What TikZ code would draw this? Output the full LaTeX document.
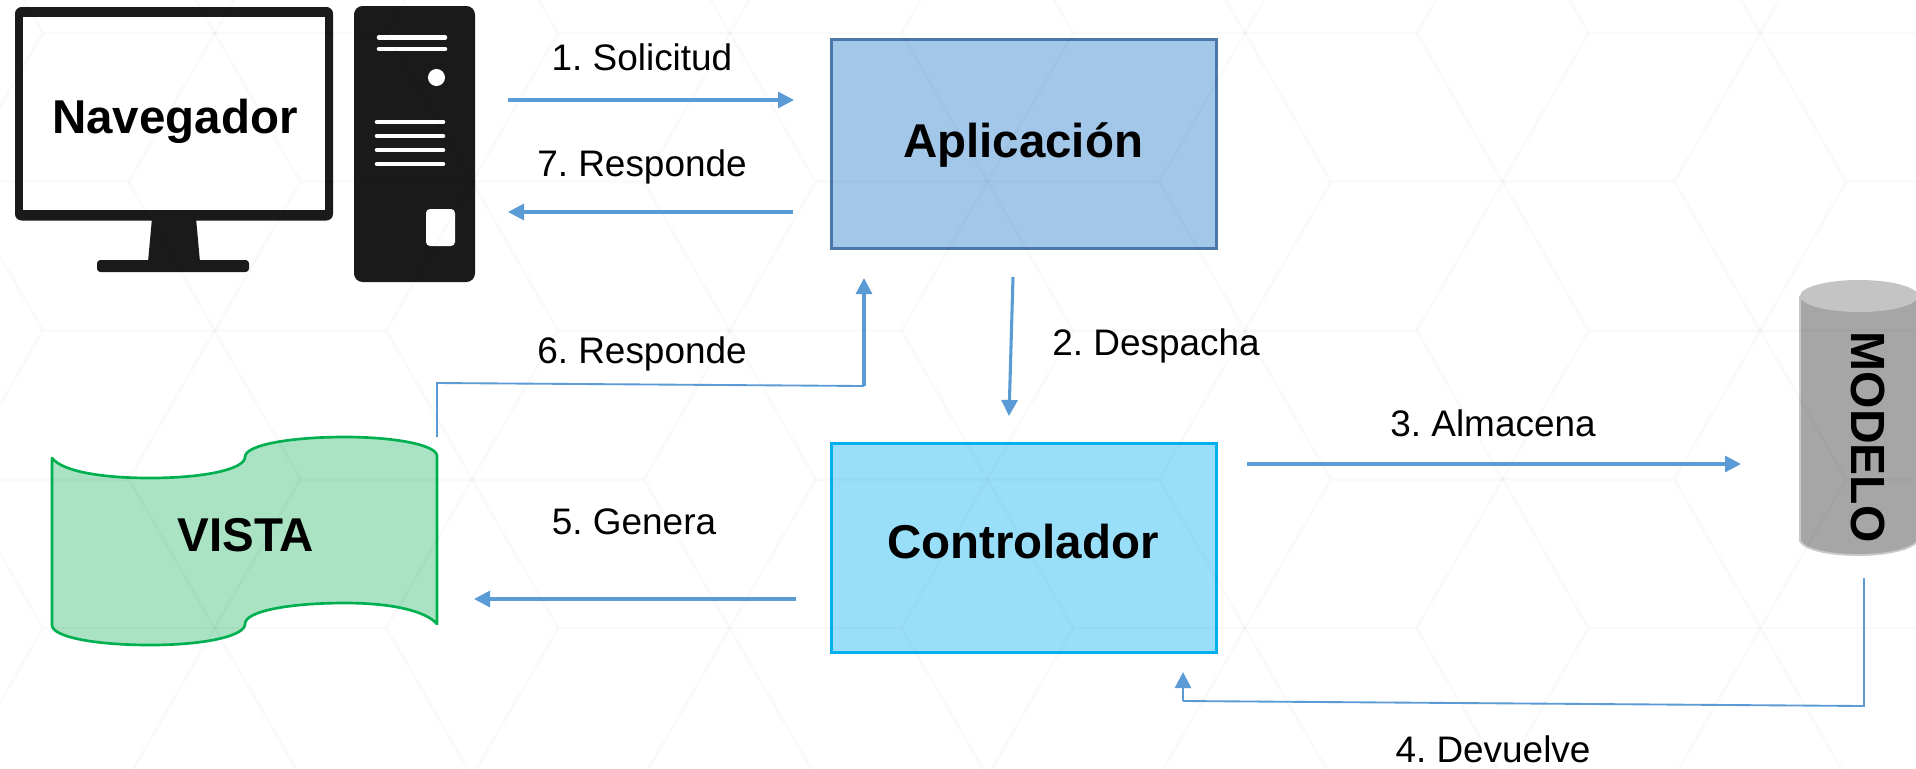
\documentclass[tikz,border=0pt]{standalone}
\usepackage{fontspec}
\setmainfont{Liberation Sans}
\usetikzlibrary{arrows.meta,calc}
\definecolor{flow}{HTML}{5B9BD5}
\definecolor{ink}{HTML}{1A1A1A}
\definecolor{vistaline}{HTML}{00B050}
\definecolor{vistafill}{HTML}{A9E3C3}
\definecolor{cylbody}{HTML}{A6A6A6}
\definecolor{cyledge}{HTML}{C8C8C8}
\definecolor{cyltop}{HTML}{C4C4C4}
\definecolor{applinea}{HTML}{4A78A8}
\definecolor{appfill}{HTML}{A3C7E9}
\definecolor{ctlline}{HTML}{00B0F0}
\definecolor{ctlfill}{HTML}{9ADFFA}
\tikzset{
  x=0.75pt,y=-0.75pt,
  boxa/.style={rectangle,draw=#1,line width=2.25pt,minimum width=288.75pt,minimum height=156.75pt,inner sep=0pt},
  big/.style={font=\bfseries\fontsize{35.6pt}{40pt}\selectfont,text=black,inner sep=0pt,anchor=base},
  lab/.style={font=\fontsize{27.7pt}{30pt}\selectfont,text=black,inner sep=0pt,anchor=base},
  flowline/.style={draw=flow,line width=2.3pt,-{Triangle[length=12pt,width=12pt]}},
  flowthin/.style={draw=flow,line width=1.4pt},
  hexline/.style={draw=black,draw opacity=0.018,line width=2.2pt},
  whitebar/.style={draw=white,line width=3.4pt,line cap=round},
  pc/.style={fill=ink,draw=none}
}
\begin{document}
\frenchspacing
\begin{tikzpicture}
\useasboundingbox[fill=white] (0,0) rectangle (1916,768);

% Monitor
\fill[pc,rounded corners=5pt] (15,7) rectangle (333,220.5);
\fill[white] (23,17) rectangle (325,210);
\fill[pc] (152,218) -- (196,218) -- (200,262) -- (148,262) -- cycle;
\fill[pc,rounded corners=2.5pt] (97,260) rectangle (249,272);
% Tower
\fill[pc,rounded corners=6.5pt] (354,6) rectangle (475,282);
\foreach \yy in {37.5,49}{\draw[whitebar] (379,\yy) -- (445,\yy);}
\fill[white] (436.5,77.5) circle[radius=6.4pt];
\foreach \yy in {122,136,150,164}{\draw[whitebar] (377,\yy) -- (443,\yy);}
\fill[white,rounded corners=3pt] (426,209) rectangle (455,246);

% Vista
\filldraw[draw=vistaline,fill=vistafill,line width=2pt,line join=round]
  (52,458) .. controls (62,471) and (100,478) .. (150,478)
  .. controls (205,478) and (245,469) .. (245,457)
  .. controls (245,445) and (290,437) .. (345,437)
  .. controls (395,437) and (437,445) .. (437,456)
  -- (437,624)
  .. controls (427,612) and (395,603) .. (345,603)
  .. controls (290,603) and (245,611) .. (245,624)
  .. controls (245,636) and (205,645) .. (150,645)
  .. controls (95,645) and (52,637) .. (52,625)
  -- cycle;
\node[inner sep=0pt,minimum width=288pt,minimum height=125pt] (vista) at (244.5,541) {};

% Modelo
\fill[fill=cylbody] (1800,296) -- (1800,541) .. controls (1805,550) and (1830,555) .. (1859,555) .. controls (1885,555) and (1910,550) .. (1918,541) -- (1918,296) -- cycle;
\draw[draw=cyledge,line width=1.4pt] (1800,296) -- (1800,541) .. controls (1805,550) and (1830,555) .. (1859,555) .. controls (1885,555) and (1910,550) .. (1918,541);
\fill[fill=cyltop] (1859,296) ellipse[x radius=59,y radius=16];
\node[inner sep=0pt,minimum width=88pt,minimum height=205pt] (modelo) at (1859,417) {};

% Boxes
\node[boxa=applinea,fill=appfill] (app) at (1023.5,143.5) {};
\node[boxa=ctlline,fill=ctlfill] (ctl) at (1023.5,547.5) {};

% Background pattern, seen through every shape
\begin{scope}
\clip (0,0) rectangle (1916,768);
\foreach \i in {-6,...,4}{
  \foreach \j in {-4,...,6}{
    \pgfmathsetmacro{\cx}{1245+257.6*\i}
    \pgfmathsetmacro{\cy}{33+148.75*\i+297.5*\j}
    \foreach \ang in {0,60,...,300}{
      \draw[hexline] (\cx,\cy) -- ++({171.7*cos(\ang)},{171.7*sin(\ang)});
    }
  }
}
\end{scope}

% Texts of the shapes
\node[big] (tnav) at (175,133) {Navegador};
\node[big] (tapp) at (1023,157) {Aplicación};
\node[big] (tctl) at (1023,558) {Controlador};
\node[big] (tvis) at (246,551) {VISTA};
\node[big,rotate=-90,font=\bfseries\fontsize{36pt}{40pt}\selectfont] (tmod) at (1851,437) {MODELO};

% Free ends of connectors
\coordinate (pcout)  at (508,100);
\coordinate (appin)  at (794,100);
\coordinate (appout) at (793,212);
\coordinate (pcin)   at (508,212);
\coordinate (appbot) at (1013,277);
\coordinate (ctltop) at (1009,416);
\coordinate (ctlr)   at (1247,464);
\coordinate (modl)   at (1741,464);
\coordinate (modb)   at (1864,578);
\coordinate (mc)     at (1864,706);
\coordinate (cc)     at (1183,701);
\coordinate (ctlb)   at (1183,672);
\coordinate (ctll)   at (796,599);
\coordinate (visr)   at (474,599);
\coordinate (vist)   at (437,437);
\coordinate (vc)     at (437,383);
\coordinate (ac)     at (864,386);
\coordinate (appb2)  at (864,278);

% Connectors
\draw[flowline] (pcout) -- (appin);
\draw[flowline] (appout) -- (pcin);
\draw[flowline] (appbot) -- (ctltop);
\draw[flowline] (ctlr) -- (modl);
\draw[flowthin] (modb) -- (mc) -- (cc);
\draw[flowline,line width=1.8pt] (cc) -- (ctlb);
\draw[flowline] (ctll) -- (visr);
\draw[flowthin] (vist) -- (vc) -- (ac);
\draw[flowline] (ac) -- (appb2);

% Connector labels
\node[lab] (l1) at (642,70) {1. Solicitud};
\node[lab] (l7) at (642,176) {7. Responde};
\node[lab] (l2) at (1156,355) {2. Despacha};
\node[lab] (l3) at (1493,436) {3. Almacena};
\node[lab] (l4) at (1493,762) {4. Devuelve};
\node[lab] (l5) at (634,534) {5. Genera};
\node[lab] (l6) at (642,363) {6. Responde};
\end{tikzpicture}
\end{document}
